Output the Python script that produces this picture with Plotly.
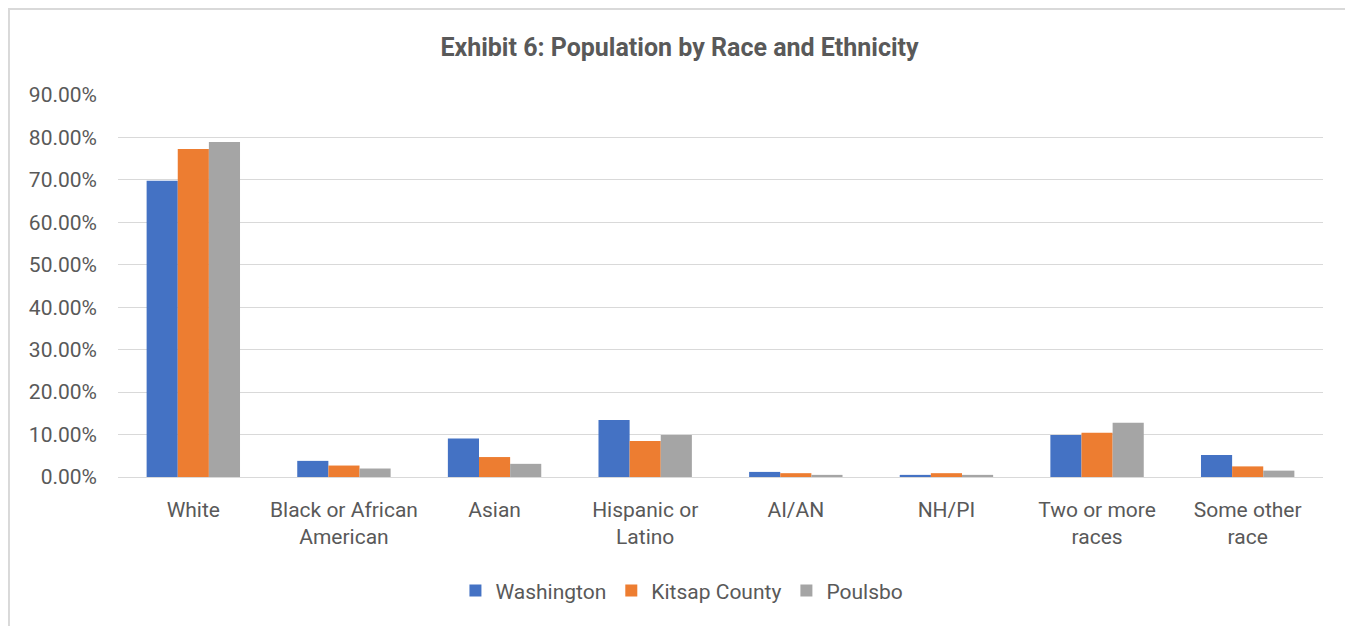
"""Exhibit 6: Population by Race and Ethnicity - grouped bar chart."""
import plotly.graph_objects as go

categories = ["White", "Black or African<br>American", "Asian", "Hispanic or<br>Latino",
              "AI/AN", "NH/PI", "Two or more<br>races", "Some other<br>race"]
washington = [0.698, 0.038, 0.091, 0.134, 0.012, 0.005, 0.099, 0.052]
kitsap = [0.773, 0.027, 0.047, 0.085, 0.009, 0.009, 0.104, 0.025]
poulsbo = [0.789, 0.020, 0.031, 0.099, 0.005, 0.005, 0.128, 0.015]
y_ticks = [0, 0.1, 0.2, 0.3, 0.4, 0.5, 0.6, 0.7, 0.8, 0.9]

FONT = "Roboto, Liberation Sans, sans-serif"
GREY = "#595959"

fig = go.Figure()
for name, vals, color in [("Washington", washington, "#4472C4"),
                          ("Kitsap County", kitsap, "#ED7D31"),
                          ("Poulsbo", poulsbo, "#A5A5A5")]:
    fig.add_trace(go.Bar(
        x=categories, y=vals, name=name,
        marker=dict(color=color, line=dict(width=0)),
    ))

# the page body has an 8px margin, so the figure is shrunk and margins shifted by 8px
fig.update_layout(
    title=dict(text="<b>Exhibit 6: Population by Race and Ethnicity</b>",
               x=0.466, xref="paper", xanchor="center", y=0.937, yanchor="middle",
               font=dict(size=25, color=GREY, family=FONT)),
    barmode="group",
    bargap=0.38,
    bargroupgap=0,
    width=1345, height=618,
    margin=dict(l=110, r=30, t=87, b=149),
    plot_bgcolor="white",
    paper_bgcolor="white",
    font=dict(size=21, color=GREY, family=FONT),
    legend=dict(orientation="h", x=0.468, xanchor="center", y=-0.298, yanchor="middle",
                font=dict(size=21, color=GREY, family=FONT)),
    shapes=[dict(type="rect", xref="paper", yref="paper",
                 x0=-0.0905, x1=1.0224, y0=-0.5, y1=1.225,
                 line=dict(color="#d9d9d9", width=2), fillcolor="rgba(0,0,0,0)", layer="below")],
)

fig.update_xaxes(showgrid=False, showline=False, ticks="", ticklabelstandoff=18,
                 tickfont=dict(size=21, color=GREY))
fig.update_yaxes(range=[0, 0.9], tickvals=y_ticks, tickformat=".2%",
                 showgrid=True, gridcolor="#d9d9d9", gridwidth=1.3,
                 zeroline=True, zerolinecolor="#d9d9d9", zerolinewidth=1.3,
                 ticks="", ticklabelstandoff=20, tickfont=dict(size=21, color=GREY))

fig.write_html("out.html")
